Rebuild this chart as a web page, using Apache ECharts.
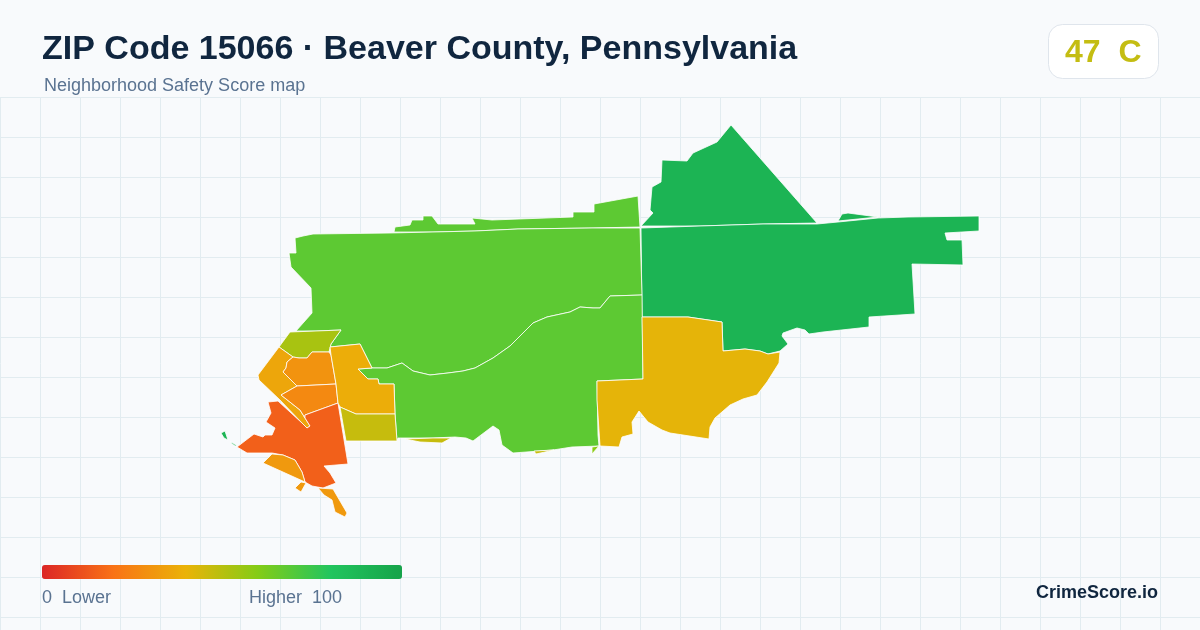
<!DOCTYPE html>
<html>
<head>
<meta charset="utf-8">
<title>ZIP Code 15066</title>
<style>
html,body{margin:0;padding:0;background:#f8fafc;}
#chart{width:1200px;height:630px;}
</style>
<script src="https://cdn.jsdelivr.net/npm/echarts@6/dist/echarts.min.js"></script>
</head>
<body>
<div id="chart"></div>
<script>
// block group names and their safety scores
var areaNames = ['north','northEast','east','northWest','south','southEast','eastSouth','oliveTop','leftStrip','centerOrange','midOrange','riverRed','lowerOrange','yellowColumn','oliveBlock','limeBit'];
var areaScores = [90, 90, 90, 68, 68, 68, 41, 53, 36, 30, 27, 15, 32, 38, 47, 59];

// outlines, [east, south] in trace units
var northOutline = [[[641,226],[653,213],[650,210],[652,187],[661,182],[662,160],[687,161],[693,153],[717,142],[731,125],[817,223],[763,224],[700,226]]];
var northEastOutline = [[[838,221],[842,214],[848,213],[878,217]],[[221,433],[225,431],[228,440],[224,438]],[[230,442],[233,443],[237,446],[235,446]]];
var eastOutline = [[[641,228],[700,226],[763,224],[817,224],[838,222],[878,218],[908,217],[979,216],[979,231],[945,233],[947,240],[962,240],[963,265],[912,264],[915,314],[869,317],[869,327],[823,332],[809,334],[805,330],[797,328],[783,333],[782,336],[788,344],[780,351],[768,354],[760,351],[745,349],[723,351],[722,322],[688,317],[665,317],[642,317]]];
var northWestOutline = [[[394,232],[395,227],[410,225],[412,220],[423,220],[423,216],[432,216],[438,224],[475,224],[472,218],[492,220],[573,217],[573,212],[594,212],[594,204],[638,196],[640,227],[592,228],[518,229],[475,231],[433,232]]];
var southOutline = [[[295,238],[303,236],[313,234],[390,233],[433,232],[475,231],[518,229],[592,228],[640,228],[642,295],[610,296],[600,308],[593,308],[580,307],[570,312],[547,317],[533,323],[523,333],[510,346],[493,358],[475,368],[463,371],[448,373],[430,375],[413,371],[402,363],[387,368],[372,368],[360,344],[330,347],[331,344],[341,330],[316,331],[296,331],[312,313],[311,288],[291,267],[289,253],[296,253]]];
var southEastOutline = [[[358,369],[372,368],[387,368],[402,363],[413,371],[430,375],[448,373],[463,371],[475,368],[493,358],[510,346],[523,333],[533,323],[547,317],[570,312],[580,307],[593,308],[600,308],[610,296],[642,295],[643,379],[597,381],[598,435],[599,446],[572,447],[553,450],[513,453],[502,445],[499,430],[493,426],[473,441],[466,438],[455,437],[433,438],[398,438],[397,441],[395,414],[394,384],[379,384],[378,379],[368,379]]];
var eastSouthOutline = [[[597,381],[643,379],[642,317],[665,317],[688,317],[722,322],[723,351],[745,349],[760,351],[768,354],[780,352],[779,363],[767,382],[757,395],[743,399],[730,405],[715,418],[710,427],[709,439],[670,433],[662,430],[648,422],[639,411],[632,422],[633,434],[622,437],[619,447],[600,446],[597,400]]];
var oliveTopOutline = [[[290,332],[316,331],[341,330],[331,344],[329,352],[312,352],[307,358],[299,358],[293,357],[279,347]]];
var leftStripOutline = [[[279,347],[293,357],[287,362],[286,368],[283,372],[297,386],[281,395],[300,410],[305,418],[310,426],[307,428],[302,423],[280,400],[259,380],[258,375]]];
var centerOrangeOutline = [[[293,357],[299,358],[307,358],[312,352],[329,352],[331,355],[336,384],[297,386],[283,372],[286,368],[287,362]]];
var midOrangeOutline = [[[281,395],[297,386],[336,384],[338,403],[305,415],[305,418],[300,410]]];
var riverRedOutline = [[[268,402],[278,401],[302,423],[307,428],[310,426],[305,418],[305,415],[338,403],[348,464],[324,466],[330,473],[336,483],[323,488],[312,486],[305,482],[302,472],[295,460],[283,455],[272,453],[247,453],[237,447],[254,434],[263,437],[265,435],[272,435],[275,428],[266,422],[271,413]]];
var lowerOrangeOutline = [[[272,454],[283,455],[295,460],[302,472],[305,482],[263,463]],[[301,482],[306,483],[301,492],[295,488]],[[318,488],[333,489],[347,513],[345,517],[335,512],[332,500],[324,495]]];
var yellowColumnOutline = [[[330,347],[360,344],[372,368],[358,369],[368,379],[378,379],[379,384],[394,384],[395,414],[356,414],[340,407],[338,403],[336,384],[331,355]]];
var oliveBlockOutline = [[[340,407],[356,414],[395,414],[397,441],[346,441]],[[405,439],[433,438],[451,438],[442,443],[420,442]],[[534,451],[554,450],[536,454]]];
var limeBitOutline = [[[592,447],[599,446],[592,454]]];

var areaOutlines = [northOutline,northEastOutline,eastOutline,northWestOutline,southOutline,southEastOutline,eastSouthOutline,oliveTopOutline,leftStripOutline,centerOrangeOutline,midOrangeOutline,riverRedOutline,lowerOrangeOutline,yellowColumnOutline,oliveBlockOutline,limeBitOutline];

var scoreColors = ['#dc2626','#f97316','#eab308','#84cc16','#22c55e','#16a34a'];
var titleText = 'ZIP Code 15066 · Beaver County, Pennsylvania';
var subtitleText = 'Neighborhood Safety Score map';
var gradeText = '47  C';

// trace runs south-down, geojson wants north-up
function toFeature(name, rings){
    var polys = [];
    for(var i=0;i<rings.length;i++){
        var ring = [];
        for(var j=0;j<rings[i].length;j++){
            ring.push([rings[i][j][0], 630-rings[i][j][1]]);
        }
        ring.push(ring[0]);
        polys.push([ring]);
    }
    return {type:'Feature',properties:{name:name},geometry:{type:'MultiPolygon',coordinates:polys}};
}

var features = [];
var seriesData = [];
areaNames.forEach(function(el,i){
    features.push(toFeature(el,areaOutlines[i]));
    seriesData.push({name:el,value:areaScores[i]});
});
echarts.registerMap('zip15066',{type:'FeatureCollection',features:features});

var fontName = '"Liberation Sans", Arial, sans-serif';
var myChart = echarts.init(document.getElementById('chart'));
var option = {
    animation:false,
    backgroundColor:'#f8fafc',
    textStyle:{fontFamily:fontName},
    title:[
        {text:titleText,left:42,top:33,padding:0,textStyle:{fontSize:34,fontWeight:'bold',color:'#10263f',fontFamily:fontName}},
        {text:subtitleText,left:44,top:77,padding:0,textStyle:{fontSize:18,fontWeight:'normal',color:'#5a7391',fontFamily:fontName}}
    ],
    grid:{left:0,right:0,top:97,bottom:0},
    xAxis:{type:'value',min:0,max:1200,interval:40,axisLine:{show:false},axisTick:{show:false},axisLabel:{show:false},splitLine:{show:true,lineStyle:{color:'#e2ecf0',width:1}}},
    yAxis:{type:'value',min:0,max:533,interval:40,inverse:true,axisLine:{show:false},axisTick:{show:false},axisLabel:{show:false},splitLine:{show:true,showMaxLine:false,lineStyle:{color:'#e2ecf0',width:1}}},
    visualMap:{
        type:'continuous',min:0,max:100,seriesIndex:0,orient:'horizontal',left:42,top:565,padding:0,borderRadius:0,
        itemWidth:14,itemHeight:360,calculable:false,realtime:false,hoverLink:false,text:null,showLabel:false,
        inRange:{color:scoreColors},textStyle:{fontSize:0,color:'transparent'},formatter:function(){return '';}
    },
    series:[{
        type:'map',map:'zip15066',aspectScale:1,roam:false,silent:true,
        layoutCenter:[600,321],layoutSize:758,
        label:{show:false},
        itemStyle:{borderColor:'#ffffff',borderWidth:0.8},
        data:seriesData
    }],
    graphic:[
        {type:'rect',z:5,shape:{x:1048.5,y:24.5,width:110,height:54,r:14},style:{fill:'#ffffff',stroke:'#dfe5ec',lineWidth:1}},
        {type:'text',z:6,x:1065,y:53,style:{text:gradeText,font:'bold 32px '+fontName,fill:'#c4bd12',textVerticalAlign:'middle'}},
        {type:'text',z:6,x:42,y:598,style:{text:'0  Lower',font:'18px '+fontName,fill:'#5a7391',textVerticalAlign:'middle'}},
        {type:'text',z:6,x:342,y:598,style:{text:'Higher  100',font:'18px '+fontName,fill:'#5a7391',textAlign:'right',textVerticalAlign:'middle'}},
        {type:'text',z:6,x:1158,y:593,style:{text:'CrimeScore.io',font:'bold 18px '+fontName,fill:'#10263f',textAlign:'right',textVerticalAlign:'middle'}}
    ]
};
myChart.setOption(option);
</script>
</body>
</html>
